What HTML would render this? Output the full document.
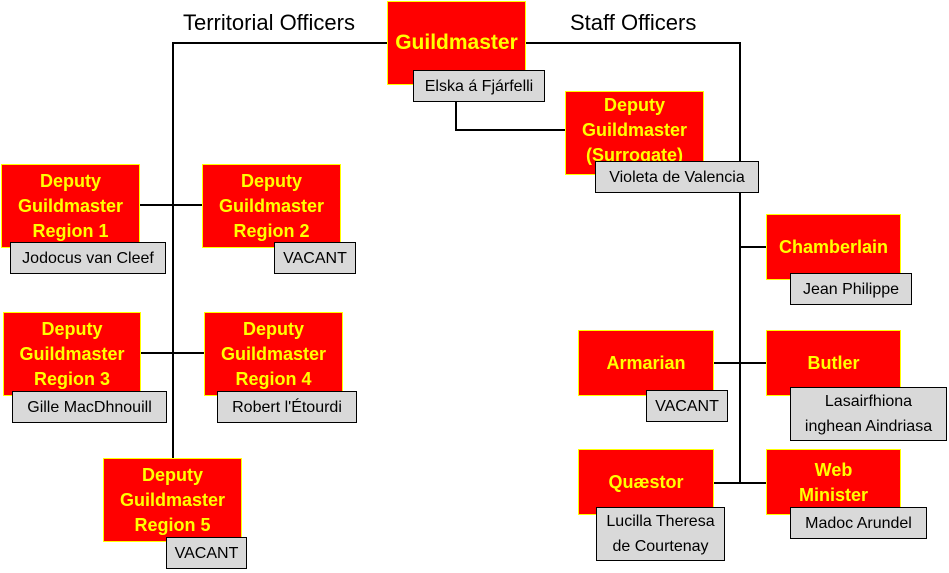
<!DOCTYPE html>
<html><head><meta charset="utf-8"><style>
body{margin:0;width:949px;height:573px;background:#fff;position:relative;overflow:hidden;font-family:"Liberation Sans",sans-serif}
.r{position:absolute;background:#f00;border:1px solid #ff0;box-sizing:border-box;color:#ff0;font-weight:bold;font-size:18px;line-height:25px;text-align:center;display:flex;align-items:center;justify-content:center}
.g{position:absolute;background:#d9d9d9;border:1px solid #000;box-sizing:border-box;color:#000;font-size:16px;line-height:25px;text-align:center;display:flex;align-items:center;justify-content:center;white-space:nowrap}
.l{position:absolute;background:#000}
.t{position:absolute;font-size:22px;color:#000}
</style></head><body>
<div class="l" style="left:172px;top:42px;width:216px;height:2px"></div>
<div class="l" style="left:172px;top:42px;width:2px;height:416px"></div>
<div class="l" style="left:526px;top:42px;width:215px;height:2px"></div>
<div class="l" style="left:739px;top:42px;width:2px;height:442px"></div>
<div class="l" style="left:455px;top:100px;width:2px;height:31px"></div>
<div class="l" style="left:455px;top:129px;width:111px;height:2px"></div>
<div class="l" style="left:140px;top:204px;width:62px;height:2px"></div>
<div class="l" style="left:141px;top:352px;width:63px;height:2px"></div>
<div class="l" style="left:740px;top:246px;width:26px;height:2px"></div>
<div class="l" style="left:714px;top:362px;width:52px;height:2px"></div>
<div class="l" style="left:714px;top:482px;width:52px;height:2px"></div>
<div class="t" style="left:183px;top:10px">Territorial Officers</div>
<div class="t" style="left:570px;top:10px">Staff Officers</div>

<div class="r" style="left:387px;top:1px;width:139px;height:84px;font-size:21px;padding-bottom:2px">Guildmaster</div>
<div class="g" style="left:413px;top:70px;width:132px;height:32px">Elska á Fjárfelli</div>

<div class="r" style="left:565px;top:91px;width:139px;height:84px;align-items:flex-start;padding-top:1px">Deputy<br>Guildmaster<br>(Surrogate)</div>
<div class="g" style="left:595px;top:161px;width:164px;height:32px">Violeta de Valencia</div>

<div class="r" style="left:1px;top:164px;width:139px;height:84px">Deputy<br>Guildmaster<br>Region 1</div>
<div class="g" style="left:10px;top:242px;width:156px;height:32px">Jodocus van Cleef</div>
<div class="r" style="left:202px;top:164px;width:139px;height:84px">Deputy<br>Guildmaster<br>Region 2</div>
<div class="g" style="left:274px;top:242px;width:82px;height:32px">VACANT</div>

<div class="r" style="left:3px;top:312px;width:138px;height:84px">Deputy<br>Guildmaster<br>Region 3</div>
<div class="g" style="left:12px;top:391px;width:155px;height:32px">Gille MacDhnouill</div>
<div class="r" style="left:204px;top:312px;width:139px;height:84px">Deputy<br>Guildmaster<br>Region 4</div>
<div class="g" style="left:217px;top:391px;width:140px;height:32px">Robert l'Étourdi</div>

<div class="r" style="left:103px;top:458px;width:139px;height:84px">Deputy<br>Guildmaster<br>Region 5</div>
<div class="g" style="left:166px;top:537px;width:81px;height:32px">VACANT</div>

<div class="r" style="left:766px;top:214px;width:135px;height:66px">Chamberlain</div>
<div class="g" style="left:790px;top:273px;width:122px;height:32px">Jean Philippe</div>

<div class="r" style="left:578px;top:330px;width:136px;height:66px">Armarian</div>
<div class="g" style="left:646px;top:390px;width:82px;height:32px">VACANT</div>
<div class="r" style="left:766px;top:330px;width:135px;height:66px">Butler</div>
<div class="g" style="left:790px;top:387px;width:157px;height:54px">Lasairfhiona<br>inghean Aindriasa</div>

<div class="r" style="left:578px;top:449px;width:136px;height:66px">Quæstor</div>
<div class="g" style="left:596px;top:507px;width:129px;height:54px">Lucilla Theresa<br>de Courtenay</div>
<div class="r" style="left:766px;top:449px;width:135px;height:66px;align-items:flex-start;padding-top:8px">Web<br>Minister</div>
<div class="g" style="left:790px;top:507px;width:137px;height:32px">Madoc Arundel</div>
</body></html>
